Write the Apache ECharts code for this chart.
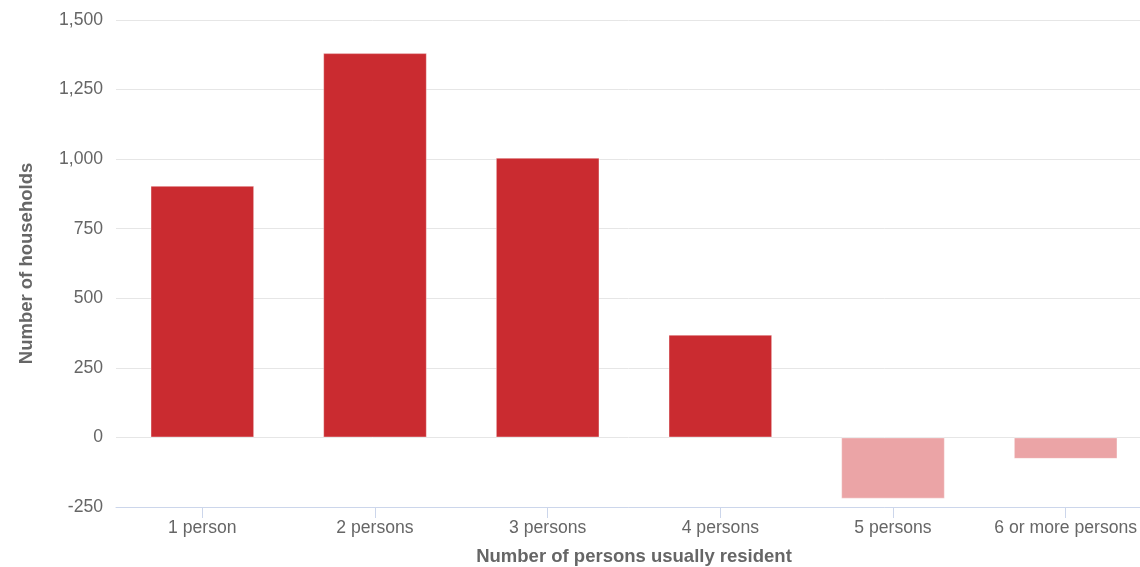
<!DOCTYPE html>
<html>
<head>
<meta charset="utf-8">
<script src="https://cdn.jsdelivr.net/npm/echarts@6/dist/echarts.min.js"></script>
<style>
html,body{margin:0;padding:0;background:#fff;}
#chart{width:1140px;height:567px;}
</style>
</head>
<body>
<div id="chart"></div>
<script>
const categories = ["1 person", "2 persons", "3 persons", "4 persons", "5 persons", "6 or more persons"];
const households = [904, 1381, 1005, 369, -220, -77];
const yTicks = { min: -250, max: 1500, interval: 250 };
const xTitle = "Number of persons usually resident";
const yTitle = "Number of households";

const FONT = '"Liberation Sans", Arial, sans-serif';
const chart = echarts.init(document.getElementById('chart'), null, { renderer: 'canvas' });
chart.setOption({
  animation: false,
  backgroundColor: '#ffffff',
  grid: { left: 116, top: 20, width: 1036, height: 487, containLabel: false, outerBoundsMode: 'none' },
  xAxis: {
    type: 'category',
    data: categories,
    name: xTitle,
    nameLocation: 'middle',
    nameGap: 40,
    nameTextStyle: { fontFamily: FONT, fontSize: 18.5, fontWeight: 'bold', color: '#666666' },
    axisLine: { onZero: false, lineStyle: { color: '#ccd6eb', width: 1 } },
    axisTick: { show: true, alignWithLabel: true, length: 11, lineStyle: { color: '#ccd6eb' } },
    axisLabel: { fontFamily: FONT, fontSize: 17.6, color: '#666666', margin: 12, interval: 0, hideOverlap: false },
    splitLine: { show: false }
  },
  yAxis: {
    type: 'value',
    min: yTicks.min,
    max: yTicks.max,
    interval: yTicks.interval,
    name: yTitle,
    nameLocation: 'middle',
    nameGap: 80,
    nameTextStyle: { fontFamily: FONT, fontSize: 18.5, fontWeight: 'bold', color: '#666666' },
    axisLine: { show: false },
    axisTick: { show: false },
    axisLabel: {
      fontFamily: FONT, fontSize: 17.6, color: '#666666', margin: 13,
      formatter: v => v.toLocaleString('en-US')
    },
    splitLine: { show: true, lineStyle: { color: '#e6e6e6', width: 1 } }
  },
  series: [{
    type: 'bar',
    data: households,
    barWidth: '60%',
    itemStyle: {
      color: p => p.value >= 0 ? '#ca2b30' : '#eba4a6',
      borderColor: 'rgba(255,255,255,0.35)',
      borderWidth: 1
    }
  }]
});
</script>
</body>
</html>
